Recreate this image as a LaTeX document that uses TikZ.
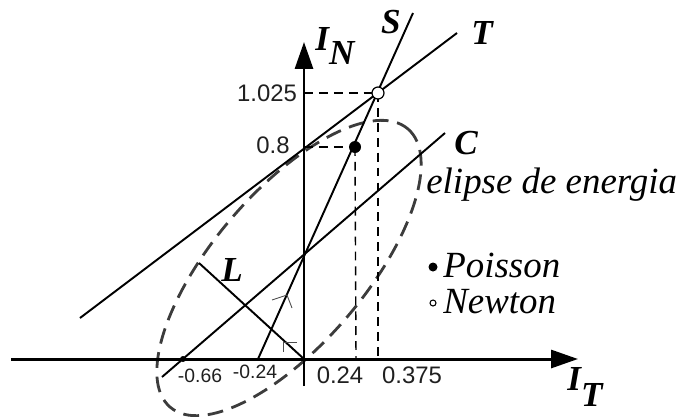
\documentclass[tikz,border=0pt]{standalone}
\usepackage{fontspec}
\setmainfont{Liberation Serif}
\setsansfont{Liberation Sans}
\usetikzlibrary{arrows.meta}
\definecolor{ink}{HTML}{000000}
\definecolor{dashgray}{HTML}{3C3C3C}
\definecolor{numgray}{HTML}{202020}

\begin{document}
\begin{tikzpicture}[
  x=0.02cm,
  y=-0.02cm,
  axis/.style={
    draw=ink,
    line width=1.7pt,
    -{Triangle[length=0.54cm,width=0.36cm]}
  },
  ray/.style={draw=ink, line width=1.1pt},
  guide/.style={draw=ink, line width=0.8pt, dash pattern=on 5pt off 3.5pt},
  energy/.style={draw=dashgray, line width=1.6pt, dash pattern=on 9pt off 5pt},
  hint/.style={draw=ink!70, line width=0.5pt},
  letter/.style={font=\fontsize{20}{22}\selectfont\bfseries\itshape, inner sep=0pt},
  ticklabel/.style={font=\sffamily\fontsize{13.6}{15}\selectfont, text=numgray, inner sep=0pt},
  smalltick/.style={font=\sffamily\fontsize{11}{13}\selectfont, text=numgray, inner sep=0pt},
  legend/.style={font=\fontsize{21}{23}\selectfont\itshape, anchor=base west, inner sep=0pt}
]
\useasboundingbox (0,0) rectangle (682,416);

% Points of the construction
\coordinate (origin) at (304,359);
\coordinate (newton) at (378,93);
\coordinate (poisson) at (355,147);
\coordinate (tcut) at (304,147);
\coordinate (ncut) at (304,93);
\coordinate (scut) at (258,359);
\coordinate (ccut) at (183,359);
\coordinate (center) at (289,268);

% Energy ellipse
\draw[energy, rotate around={49.5:(center)}] (center) ellipse [x radius=183, y radius=76];

% Axes
\draw[axis] (11,359) -- (578,359);
\draw[axis] (304,386) -- (304,42);

% Lines T, S, C and L
\coordinate (tlow) at (80,318);
\coordinate (thigh) at (457,33);
\coordinate (stop) at (413,13);
\coordinate (clow) at (162,377);
\coordinate (chigh) at (445,133);
\coordinate (lend) at (199,263);
\draw[ray] (tlow) -- (thigh);
\draw[ray] (scut) -- (stop);
\draw[ray] (clow) -- (chigh);
\draw[ray] (lend) -- (origin);

% Small marks
\draw[hint] (272,300) -- (287,295) -- (292,308);
\draw[hint] (297,342) -- (283,342) -- (283,352);
\fill[ink] (ccut) circle [radius=3];

% Guides to the axes
\draw[guide] (ncut) -- (newton);
\draw[guide] (newton) -- (378,359);
\draw[guide] (tcut) -- (poisson);
\draw[guide] (poisson) -- (356,359);

% Solutions
\fill[ink] (poisson) circle [radius=6];
\draw[ink, line width=0.7pt, fill=white] (newton) circle [radius=6];

% Labels
\node[letter] (slabel) at (391,22) {S};
\node[letter] (tlabel) at (482,33) {T};
\node[letter] (clabel) at (466,143) {C};
\node[letter] (llabel) at (232,270) {L};
\node[letter] (inlabel) at (335,46) {I\raisebox{-0.4em}{N}};
\node[letter] (itlabel) at (585,387) {I\raisebox{-0.45em}{T}};

\node[ticklabel] (n1025) at (267,93) {1.025};
\node[ticklabel] (n08) at (273,145) {0.8};
\node[ticklabel] (t024) at (340,375) {0.24};
\node[ticklabel] (t0375) at (412,375) {0.375};
\node[smalltick] (tm066) at (200,376) {-0.66};
\node[smalltick] (tm024) at (255,372) {-0.24};

\node[legend] (ellipselabel) at (426,193) {elipse de energia};
\fill[ink] (433,267) circle [radius=4.5];
\node[legend] (poissonlabel) at (443,277) {Poisson};
\draw[ink, line width=0.6pt, fill=white] (433,303) circle [radius=3];
\node[legend] (newtonlabel) at (443,313) {Newton};

\end{tikzpicture}
\end{document}
